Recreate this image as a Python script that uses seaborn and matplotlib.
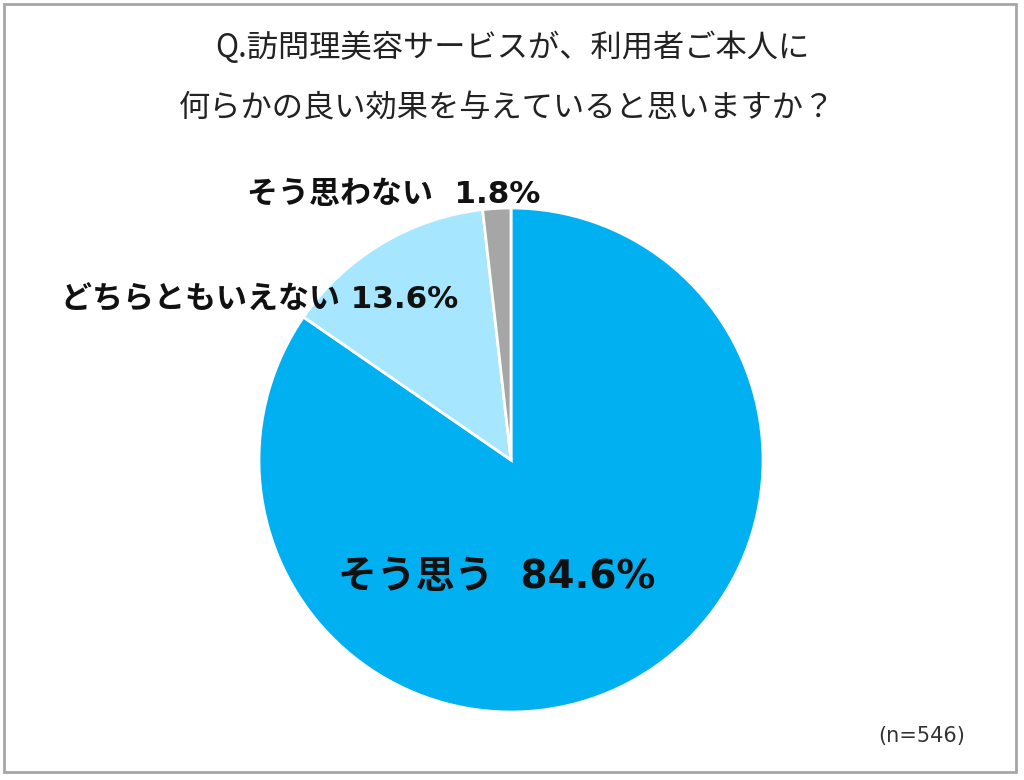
import matplotlib
matplotlib.use("Agg")
import matplotlib.pyplot as plt
import seaborn as sns
from matplotlib.patches import Rectangle

categories = ["そう思う", "どちらともいえない", "そう思わない"]
values = [84.6, 13.6, 1.8]
colors = ["#00B0F0", "#A7E6FF", "#A6A6A6"]
title_lines = ["Q.訪問理美容サービスが、利用者ご本人に", "何らかの良い効果を与えていると思いますか？"]
note = "(n=546)"

sns.set_theme(style="white")
plt.rcParams['font.family'] = ['Noto Sans CJK JP', 'DejaVu Sans']
mixed = ['DejaVu Sans', 'Noto Sans CJK JP']

W, H = 1024, 780
fig = plt.figure(figsize=(W / 100, H / 100), dpi=100)
fig.patch.set_facecolor("white")

cx, cy, r = 511, 460, 252
ax = fig.add_axes([(cx - r) / W, 1 - (cy + r) / H, 2 * r / W, 2 * r / H])
ax.pie(values, colors=colors, startangle=90, counterclock=False, radius=1,
       wedgeprops=dict(edgecolor="white", linewidth=2))
ax.set_xlim(-1, 1)
ax.set_ylim(-1, 1)
ax.set_aspect("equal")
ax.axis("off")

bold = dict(fontweight="bold", color="#111111", clip_on=False, family=mixed)
ax.text(-0.056, -0.464, f"{categories[0]}  {values[0]}%", ha="center", va="center", fontsize=28, **bold)
ax.text(-0.21, 0.635, f"{categories[1]} {values[1]}%", ha="right", va="center", fontsize=22.3, **bold)
ax.text(0.115, 1.052, f"{categories[2]}  {values[2]}%", ha="right", va="center", fontsize=22.3, **bold)

fig.text(512 / W, 1 - 48 / H, title_lines[0], ha="center", va="center", fontsize=22.5, color="#222222")
fig.text(507 / W, 1 - 108 / H, title_lines[1], ha="center", va="center", fontsize=22.5, color="#222222")
fig.text(922 / W, 1 - 736 / H, note, ha="center", va="center", fontsize=15, color="#333333", family=mixed)

fig.add_artist(Rectangle((4 / W, 1 - 772 / H), 1012 / W, 768 / H, transform=fig.transFigure,
                         fill=False, edgecolor="#A6A6A6", linewidth=2))

fig.savefig("out.png", dpi=100, facecolor="white")
